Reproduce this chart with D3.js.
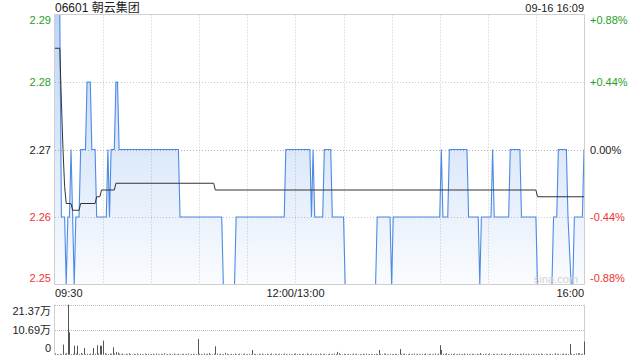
<!DOCTYPE html>
<html>
<head>
<meta charset="utf-8">
<script src="https://cdn.jsdelivr.net/npm/d3@7"></script>
<style>
  html, body { margin: 0; padding: 0; background: #fff; }
  svg { display: block; }
  text { font-family: "Liberation Sans", Arial, "Noto Sans CJK SC", sans-serif; }
</style>
</head>
<body>
<svg id="chart" width="640" height="360"></svg>
<script>
// ---------------- data ----------------
const title = "06601 朝云集团";
const stamp = "09-16 16:09";
const prevClose = 2.27;

const priceTimes = ["09:30","09:33","09:34","09:36","09:37","09:38","09:39","09:40","09:42","09:43",
  "09:45","09:46","09:49","09:50","09:52","09:53","09:55","09:56","10:02","10:03",
  "10:04","10:05","10:07","10:08","10:09","10:10","10:47","10:48","11:14","11:15",
  "11:22","11:23","11:53","11:54","13:09","13:10","13:11","13:12","13:17","13:18",
  "13:22","13:23","13:30","13:31","13:50","13:51","13:59","14:00","14:01","14:30",
  "14:31","14:32","14:35","14:36","14:47","14:48","14:54","14:55","14:56","15:02",
  "15:03","15:04","15:13","15:14","15:20","15:21","15:30","15:31","15:40","15:41",
  "15:43","15:44","15:49","15:50","15:52","15:53","15:54","15:59","16:00"];
const priceValues = [2.29,2.29,2.26,2.26,2.25,2.26,2.26,2.27,2.25,2.26,
  2.26,2.27,2.27,2.28,2.28,2.27,2.27,2.26,2.26,2.27,
  2.26,2.27,2.27,2.28,2.28,2.27,2.27,2.26,2.26,2.25,
  2.25,2.26,2.26,2.27,2.27,2.26,2.27,2.26,2.26,2.27,
  2.27,2.26,2.26,2.25,2.25,2.26,2.26,2.25,2.26,2.26,
  2.27,2.26,2.26,2.27,2.27,2.26,2.26,2.25,2.26,2.26,
  2.27,2.26,2.26,2.27,2.27,2.26,2.26,2.25,2.25,2.26,
  2.26,2.27,2.27,2.26,2.25,2.25,2.26,2.26,2.27];

const avgTimes = ["09:30","09:33","09:34","09:35","09:36","09:37","09:40","09:41","09:45","09:46",
  "09:55","09:56","09:58","09:59","10:07","10:08","11:09","11:10","15:30","15:31","16:00"];
const avgValues = [2.285,2.285,2.277,2.270,2.2645,2.262,2.262,2.261,2.261,2.262,
  2.262,2.263,2.263,2.264,2.264,2.265,2.265,2.264,2.264,2.263,2.263];

// volume per minute (万股), index 0 = 09:30 ... 330 = 16:00
const volumes = [
  0.5,0.3,0.2,0.4,0.3,4.3,0.4,0.6,21.37,9.6,
  0.3,0.4,3.85,0.5,3.85,0.3,0.7,0.4,2.85,0.3,
  0.4,0.3,0.5,0.3,2.85,0.4,4.0,0.5,3.85,3.85,
  6.0,0.6,0.4,0.3,0.5,0.4,3.2,0.5,1.1,0.9,
  0.4,0.3,0.5,0.2,0.4,0.3,0.6,0.3,0.2,0.4,
  0.3,0.5,0.2,0.4,0.3,0.2,0.5,0.3,0.4,0.2,
  0.3,0.4,0.2,0.5,0.3,0.2,0.4,0.3,0.6,0.2,
  0.3,0.2,0.4,0.3,0.5,0.2,0.3,0.4,0.2,0.3,
  0.4,0.2,0.3,0.5,0.2,0.3,0.4,0.2,0.3,6.7,
  0.4,0.3,0.2,0.5,0.3,0.4,0.7,0.3,0.2,0.4,
  3.6,0.5,0.3,0.4,0.2,0.3,0.8,0.4,0.3,0.2,
  0.4,0.3,0.5,0.2,0.3,0.4,0.2,0.3,0.5,0.2,
  0.3,0.4,0.2,2.0,0.4,0.3,0.2,0.4,0.3,0.5,
  0.2,0.3,0.4,0.2,0.3,0.5,0.2,0.4,0.3,0.2,
  0.4,0.3,0.2,0.5,0.3,0.2,0.4,0.3,0.2,0.4,
  0.5,0.3,0.4,0.2,0.3,0.4,0.2,0.5,0.3,0.2,
  0.4,0.3,0.2,0.4,0.3,0.5,0.2,0.3,0.4,0.2,
  0.3,0.4,0.2,0.3,0.5,0.3,1.2,0.6,0.3,0.2,
  0.4,0.3,0.2,0.4,0.3,0.2,0.5,0.3,0.4,0.2,
  0.3,0.2,0.4,0.3,0.5,0.2,0.3,0.4,0.2,0.3,
  0.4,0.3,2.0,0.3,0.2,0.4,0.5,0.3,0.2,0.4,
  0.3,0.2,0.4,0.3,0.2,2.4,0.4,0.3,0.5,0.2,
  0.3,0.4,0.2,0.3,0.5,0.2,0.4,0.3,0.2,0.4,
  0.3,0.5,0.2,0.3,0.4,0.2,0.3,0.5,0.2,0.4,
  4.1,2.0,0.4,0.3,0.6,0.3,0.2,0.4,0.3,0.5,
  0.2,0.3,0.4,0.2,0.3,0.5,0.2,0.4,0.3,0.2,
  0.4,0.3,0.2,0.4,0.3,0.7,0.2,0.3,0.4,0.2,
  0.3,0.5,0.2,0.4,0.3,0.2,0.4,0.3,0.5,0.2,
  0.3,0.4,0.2,0.3,0.5,0.3,0.2,0.4,0.3,0.2,
  0.4,0.3,0.5,0.2,0.3,0.4,0.2,0.3,0.4,0.2,
  0.3,0.4,0.2,0.5,0.3,0.2,0.4,0.3,0.2,0.4,
  0.3,0.2,0.6,0.3,0.4,0.2,0.3,0.5,0.3,0.4,
  0.3,4.6,0.4,0.2,0.3,0.5,0.6,0.6,0.3,0.4,
  5.6
];

const priceTicks = [2.29, 2.28, 2.27, 2.26, 2.25];
const priceTickLabels = ["2.29","2.28","2.27","2.26","2.25"];
const pctTickLabels = ["+0.88%","+0.44%","0.00%","-0.44%","-0.88%"];
const volTicks = [21.37, 10.69, 0];
const volTickLabels = ["21.37万","10.69万","0"];
const timeTickLabels = ["09:30","12:00/13:00","16:00"];
const timeTickIdx = [0, 150, 330];
const gridIdx = [30,60,90,120,150,180,210,240,270,300];

// ---------------- layout ----------------
const L = 55, R = 584;
const pTop = 14.5, pBot = 284.5;
const vTop = 304.7, vBot = 354.7;

function toIdx(t) {
  const [h, m] = t.split(":").map(Number);
  const min = h * 60 + m;
  return min <= 720 ? min - 570 : 150 + (min - 780);
}

const svg = d3.select("#chart");
const x = d3.scaleLinear().domain([0, 330]).range([L, R]);
const y = d3.scaleLinear().domain([2.25, 2.29]).range([pBot, pTop]);
const yv = d3.scaleLinear().domain([0, 21.37]).range([vBot, vTop]);

const colorOf = v => v > prevClose + 1e-9 ? "#1f9e1f" : (v < prevClose - 1e-9 ? "#f03333" : "#222");

// gradient
const defs = svg.append("defs");
const grad = defs.append("linearGradient").attr("id", "fillg")
  .attr("gradientUnits", "userSpaceOnUse")
  .attr("x1", 0).attr("y1", pTop).attr("x2", 0).attr("y2", pBot);
grad.append("stop").attr("offset", "0%").attr("stop-color", "#4d8ae6").attr("stop-opacity", 0.36);
grad.append("stop").attr("offset", "100%").attr("stop-color", "#4d8ae6").attr("stop-opacity", 0.03);

// grid lines price panel
const g = svg.append("g");
g.selectAll(".vg").data(gridIdx).enter().append("line")
  .attr("x1", d => Math.round(x(d)) + 0.5).attr("x2", d => Math.round(x(d)) + 0.5)
  .attr("y1", pTop).attr("y2", pBot)
  .attr("stroke", "#c8c8c8").attr("stroke-dasharray", "1,2");
g.selectAll(".hg").data([2.28, 2.27, 2.26]).enter().append("line")
  .attr("x1", L).attr("x2", R)
  .attr("y1", d => Math.round(y(d)) + 0.5).attr("y2", d => Math.round(y(d)) + 0.5)
  .attr("stroke", d => d === 2.27 ? "#b0b0b0" : "#c8c8c8")
  .attr("stroke-dasharray", "1,2");

// price area + line
const pts = priceTimes.map((t, i) => [toIdx(t), priceValues[i]]);
const area = d3.area().x(d => x(d[0])).y0(pBot).y1(d => y(d[1]));
const line = d3.line().x(d => x(d[0])).y(d => y(d[1]));
g.append("path").datum(pts).attr("d", area).attr("fill", "url(#fillg)");
g.append("path").datum(pts).attr("d", line)
  .attr("fill", "none").attr("stroke", "#4d8ae6").attr("stroke-width", 1.1);

// avg line
const apts = avgTimes.map((t, i) => [toIdx(t), avgValues[i]]);
g.append("path").datum(apts).attr("d", line)
  .attr("fill", "none").attr("stroke", "#333").attr("stroke-width", 1);

// borders price panel
const bc = "#cfcfcf";
g.append("line").attr("x1", L - 0.5).attr("x2", R + 0.5).attr("y1", pTop).attr("y2", pTop).attr("stroke", bc);
g.append("line").attr("x1", L - 0.5).attr("x2", R + 0.5).attr("y1", pBot).attr("y2", pBot).attr("stroke", bc);
g.append("line").attr("x1", L - 0.5).attr("x2", L - 0.5).attr("y1", pTop).attr("y2", pBot).attr("stroke", bc);
g.append("line").attr("x1", R + 0.5).attr("x2", R + 0.5).attr("y1", pTop).attr("y2", pBot).attr("stroke", bc);

// watermark
svg.append("text").attr("x", 578).attr("y", 282.5).attr("text-anchor", "end")
  .attr("font-size", 11).attr("fill", "#d2d2d2").text("sina.com");

// price labels left & right
const labelY = (v, i, n) => i === 0 ? y(v) + 9.5 : (i === n - 1 ? y(v) - 3 : y(v) + 4);
svg.selectAll(".pl").data(priceTicks).enter().append("text")
  .attr("x", 51).attr("y", (d, i) => labelY(d, i, priceTicks.length))
  .attr("text-anchor", "end").attr("font-size", 11)
  .attr("fill", d => colorOf(d)).text((d, i) => priceTickLabels[i]);
svg.selectAll(".pr").data(priceTicks).enter().append("text")
  .attr("x", 590).attr("y", (d, i) => labelY(d, i, priceTicks.length))
  .attr("text-anchor", "start").attr("font-size", 11)
  .attr("fill", d => colorOf(d)).text((d, i) => pctTickLabels[i]);

// time labels
svg.selectAll(".tl").data(timeTickIdx).enter().append("text")
  .attr("x", d => x(d)).attr("y", 297)
  .attr("text-anchor", (d, i) => i === 0 ? "start" : (i === timeTickIdx.length - 1 ? "end" : "middle"))
  .attr("font-size", 11).attr("fill", "#222").text((d, i) => timeTickLabels[i]);

// title + stamp
svg.append("text").attr("x", L).attr("y", 12).attr("font-size", 12).attr("fill", "#222").text(title);
svg.append("text").attr("x", R).attr("y", 11.5).attr("text-anchor", "end").attr("font-size", 11).attr("fill", "#222").text(stamp);

// volume panel
const vg = svg.append("g");
vg.selectAll(".vh").data([21.37, 10.69]).enter().append("line")
  .attr("x1", L).attr("x2", R)
  .attr("y1", d => Math.round(yv(d)) + 0.5).attr("y2", d => Math.round(yv(d)) + 0.5)
  .attr("stroke", "#bdbdbd").attr("stroke-dasharray", "1,1");
vg.append("line").attr("x1", L - 0.5).attr("x2", L - 0.5).attr("y1", vTop).attr("y2", vBot).attr("stroke", bc);
vg.append("line").attr("x1", R + 0.5).attr("x2", R + 0.5).attr("y1", vTop).attr("y2", vBot).attr("stroke", bc);
vg.selectAll(".vb").data(volumes).enter().append("rect")
  .attr("x", (d, i) => Math.round(x(i)))
  .attr("width", 1)
  .attr("y", d => yv(d))
  .attr("height", d => vBot - yv(d))
  .attr("fill", "#555");
const vLabelY = (v, i, n) => i === 0 ? yv(v) + 10 : (i === n - 1 ? yv(v) - 3 : yv(v) + 4);
svg.selectAll(".vl").data(volTicks).enter().append("text")
  .attr("x", 51).attr("y", (d, i) => vLabelY(d, i, volTicks.length))
  .attr("text-anchor", "end").attr("font-size", 11).attr("fill", "#222")
  .text((d, i) => volTickLabels[i]);
</script>
</body>
</html>
